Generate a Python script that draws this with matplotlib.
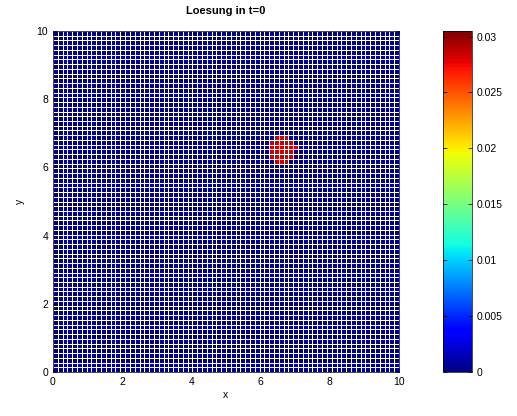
import numpy as np
import matplotlib
matplotlib.use("Agg")
import matplotlib.pyplot as plt

# grid and initial condition
n_cells = 72
x_range = [0, 10]
y_range = [0, 10]
bump_center = (6.6, 6.55)
bump_radius = 0.42
bump_value = 0.0285
background_value = 0.0
c_max = 0.0305
cbar_ticks = [0, 0.005, 0.01, 0.015, 0.02, 0.025, 0.03]
cbar_labels = ["0", "0.005", "0.01", "0.015", "0.02", "0.025", "0.03"]
axis_ticks = [0, 2, 4, 6, 8, 10]

xe = np.linspace(x_range[0], x_range[1], n_cells + 1)
ye = np.linspace(y_range[0], y_range[1], n_cells + 1)
xc = 0.5 * (xe[:-1] + xe[1:])
yc = 0.5 * (ye[:-1] + ye[1:])
XC, YC = np.meshgrid(xc, yc)
u0 = np.full(XC.shape, background_value)
inside = (XC - bump_center[0]) ** 2 + (YC - bump_center[1]) ** 2 <= bump_radius ** 2
u0[inside] = bump_value

plt.rcParams["font.family"] = ["Liberation Sans", "DejaVu Sans"]
plt.rcParams["font.size"] = 7.5

fig = plt.figure(figsize=(5.17, 4.16), dpi=100)
ax = fig.add_axes([53 / 517, 1 - 372 / 416, 346 / 517, 341 / 416])
cax = fig.add_axes([443 / 517, 1 - 372 / 416, 29 / 517, 341 / 416])

mesh = ax.pcolormesh(xe, ye, u0, cmap="jet", vmin=0, vmax=c_max,
                     edgecolors="white", linewidth=0.55)
ax.set_xlim(x_range)
ax.set_ylim(y_range)
ax.set_xticks(axis_ticks)
ax.set_yticks(axis_ticks)
ax.tick_params(direction="in", length=3, width=0.5, top=True, right=True)
for s in ax.spines.values():
    s.set_linewidth(0.5)
ax.set_xlabel("x", labelpad=2)
ax.set_ylabel("y", labelpad=8)
ax.set_title("Loesung in t=0", fontweight="bold", fontsize=8, pad=12)

cb = fig.colorbar(mesh, cax=cax)
cb.set_ticks(cbar_ticks)
cb.set_ticklabels(cbar_labels)
cb.ax.tick_params(direction="in", length=3, width=0.5, left=True, right=True)
cb.outline.set_linewidth(0.5)

fig.savefig("out.png", dpi=100)
